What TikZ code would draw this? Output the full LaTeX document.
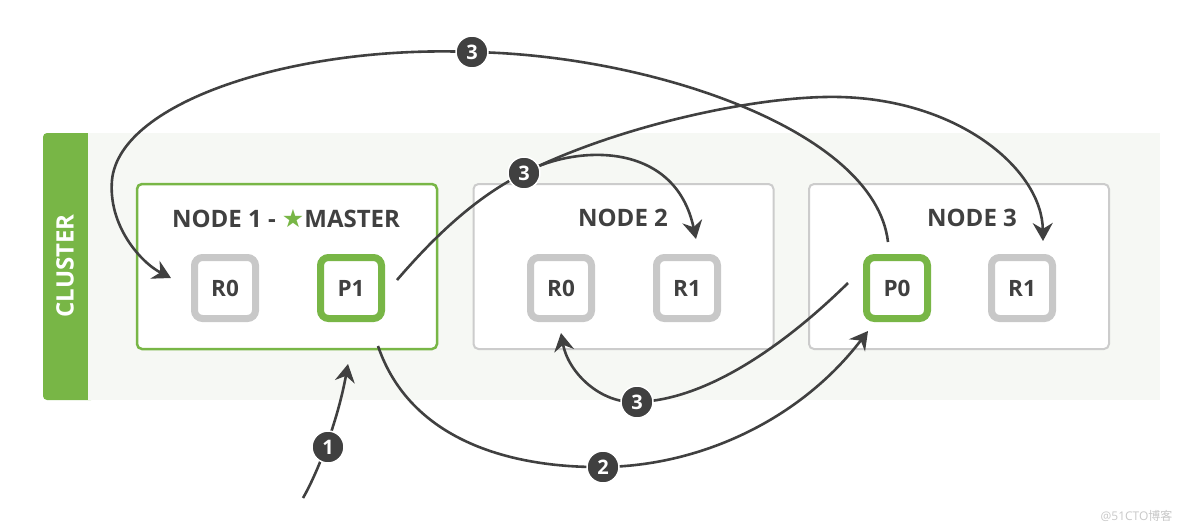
\documentclass[tikz,border=0pt]{standalone}
\usepackage{fontspec}
\setmainfont{Open Sans}
\newfontfamily\symfont{DejaVu Sans}
\newfontfamily\cjkfont{Noto Sans CJK SC}
\usetikzlibrary{arrows.meta}
\definecolor{esgreen}{RGB}{120,182,70}
\definecolor{shardgray}{RGB}{200,200,200}
\definecolor{boxgray}{RGB}{204,204,204}
\definecolor{clusterbg}{RGB}{246,248,244}
\definecolor{darkink}{RGB}{64,64,64}
\definecolor{wmgray}{RGB}{200,200,200}
\tikzset{
  nodebox/.style={draw=boxgray, fill=white, line width=2, rounded corners=5, minimum width=300, minimum height=165},
  shard/.style={draw=shardgray, fill=white, line width=7, rounded corners=8, minimum size=61, inner sep=0,
    text=darkink, font=\bfseries\fontsize{22.5}{22.5}\selectfont},
  primary/.style={shard, draw=esgreen},
  title/.style={text=darkink, font=\bfseries\fontsize{24}{24}\selectfont},
  num/.style={circle, fill=darkink, draw=white, line width=1.5, minimum size=32, inner sep=0,
    text=white, font=\bfseries\fontsize{20}{20}\selectfont},
  flow/.style={draw=darkink, line width=2.6, -{Stealth[length=18pt,width=20pt,inset=6pt]}}
}
\begin{document}
\begin{tikzpicture}[x=1pt,y=-1pt]
\useasboundingbox (0,0) rectangle (1184,528);
% cluster
\fill[esgreen, rounded corners=4] (43,133) rectangle (95,400);
\fill[clusterbg] (88,133) rectangle (1160,400);
\node[rotate=90, text=white, font=\bfseries\fontsize{24}{24}\selectfont] (cl) at (65,266) {CLUSTER};
% nodes
\node[nodebox, draw=esgreen, line width=2.5] (n1) at (287,266.5) {};
\node[nodebox] (n2) at (623.5,266.5) {};
\node[nodebox] (n3) at (959,266.5) {};
\node[title] (t1) at (286,219) {NODE 1 - {\color{esgreen}\symfont\fontsize{25}{25}\selectfont ★}MASTER};
\node[title] (t2) at (623,218) {NODE 2};
\node[title] (t3) at (972,218) {NODE 3};
% shards
\node[shard] (r0a) at (225,288) {R0};
\node[primary] (p1) at (351,288) {P1};
\node[shard] (r0b) at (561,288) {R0};
\node[shard] (r1b) at (687,288) {R1};
\node[primary] (p0) at (897,288) {P0};
\node[shard] (r1c) at (1022,288) {R1};
% connector end points
\coordinate (s1) at (303,498);
\coordinate (e1) at (348,364);
\coordinate (s2) at (378,346);
\coordinate (e2) at (868,331);
\coordinate (s3a) at (848,283);
\coordinate (e3a) at (561,333);
\coordinate (s3b) at (397,280);
\coordinate (e3b) at (1043,241);
\coordinate (e3c) at (696,239);
\coordinate (s3d) at (888,242);
\coordinate (e3d) at (171,278);
% circle positions
\coordinate (k1) at (328,447);
\coordinate (k2) at (603,467);
\coordinate (k3a) at (637,402);
\coordinate (k3b) at (524,173);
\coordinate (k3c) at (472,52);
% connectors
\draw[flow] (s1) .. controls (318,472) and (338,420) .. (e1);
\draw[flow] (s2) .. controls (410,440) and (510,468) .. (k2) .. controls (700,466) and (800,420) .. (e2);
\draw[flow] (s3a) .. controls (790,340) and (710,400) .. (k3a) .. controls (600,404) and (568,372) .. (e3a);
\draw[flow] (s3b) .. controls (440,230) and (480,195) .. (k3b) .. controls (620,125) and (760,95) .. (840,97) .. controls (960,100) and (1042,170) .. (e3b);
\draw[flow] (k3b) .. controls (575,145) and (675,140) .. (e3c);
\draw[flow] (s3d) .. controls (875,130) and (650,55) .. (k3c) .. controls (300,45) and (120,100) .. (112,180) .. controls (108,225) and (140,262) .. (e3d);
% number circles
\node[num] (c1) at (k1) {1};
\node[num] (c2) at (k2) {2};
\node[num] (c3a) at (k3a) {3};
\node[num] (c3b) at (k3b) {3};
\node[num] (c3c) at (k3c) {3};
% watermark
\node[text=wmgray, font=\fontsize{12}{12}\selectfont, anchor=east] (wm) at (1176,516) {@51CTO{\cjkfont 博客}};
\end{tikzpicture}
\end{document}
